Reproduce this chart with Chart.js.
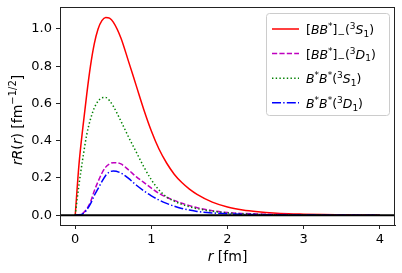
<!DOCTYPE html>
<html lang="en">
<head>
    <meta charset="UTF-8">
    <title>Radial wave functions</title>
    <script src="https://cdn.jsdelivr.net/npm/chart.js"></script>
    <style>
        body {
            margin: 0;
            background: #fff;
        }
    </style>
</head>
<body>
    <canvas id="waveChart" width="402" height="273"></canvas>
    <script>
        // r grid [fm] and the four curves
        var rValues = [0, 0.05, 0.1, 0.15, 0.2, 0.25, 0.3, 0.35, 0.4, 0.45, 0.5, 0.6, 0.7, 0.8, 0.9, 1.0,
            1.1, 1.2, 1.3, 1.4, 1.5, 1.6, 1.8, 2.0, 2.2, 2.4, 2.6, 2.8, 3.0, 3.25, 3.5, 3.75, 4.0];
        var bbS1 = [0, 0.275, 0.47, 0.645, 0.80, 0.92, 1.0, 1.045, 1.062, 1.058, 1.037, 0.952, 0.826, 0.697, 0.568, 0.452,
            0.355, 0.28, 0.22, 0.175, 0.14, 0.112, 0.07, 0.044, 0.028, 0.018, 0.011, 0.007, 0.005, 0.003, 0.002, 0.001, 0.001];
        var bbD1 = [0, 0.002, 0.01, 0.033, 0.07, 0.13, 0.18, 0.225, 0.258, 0.275, 0.282, 0.275, 0.243, 0.207, 0.176, 0.145,
            0.117, 0.096, 0.079, 0.064, 0.051, 0.04, 0.024, 0.014, 0.009, 0.006, 0.004, 0.003, 0.002, 0.001, 0.001, 0, 0];
        var bsS1 = [0, 0.165, 0.305, 0.43, 0.515, 0.575, 0.612, 0.63, 0.632, 0.615, 0.585, 0.505, 0.42, 0.34, 0.26, 0.19,
            0.135, 0.098, 0.075, 0.058, 0.045, 0.035, 0.021, 0.012, 0.007, 0.004, 0.002, 0.001, 0.001, 0, 0, 0, 0];
        var bsD1 = [0, 0.001, 0.007, 0.028, 0.06, 0.105, 0.142, 0.18, 0.213, 0.232, 0.237, 0.226, 0.197, 0.162, 0.131, 0.104,
            0.081, 0.063, 0.048, 0.036, 0.027, 0.02, 0.012, 0.007, 0.004, 0.003, 0.002, 0.001, 0.001, 0, 0, 0, 0];

        var xTicks = [0, 1, 2, 3, 4];
        var yTicks = [0, 0.2, 0.4, 0.6, 0.8, 1.0];

        var FONT = '"DejaVu Sans", sans-serif';

        function pts(ys) {
            return rValues.map(function(r, i) { return {x: r, y: ys[i]}; });
        }

        // legend labels as pieces: n = upright, i = italic, p = superscript, s = subscript
        var legendItems = [
            {color: '#ff0000', dash: [], parts: [['[', 'n'], ['BB', 'i'], ['*', 'p'], [']', 'n'], ['\u2212', 's'], ['(', 'n'], ['3', 'p'], ['S', 'i'], ['1', 's'], [')', 'n']]},
            {color: '#bf00bf', dash: [5.2, 2.2], parts: [['[', 'n'], ['BB', 'i'], ['*', 'p'], [']', 'n'], ['\u2212', 's'], ['(', 'n'], ['3', 'p'], ['D', 'i'], ['1', 's'], [')', 'n']]},
            {color: '#008000', dash: [1.4, 2.3], parts: [['B', 'i'], ['*', 'p'], ['B', 'i'], ['*', 'p'], ['(', 'n'], ['3', 'p'], ['S', 'i'], ['1', 's'], [')', 'n']]},
            {color: '#0000ff', dash: [9, 2.2, 1.4, 2.2], parts: [['B', 'i'], ['*', 'p'], ['B', 'i'], ['*', 'p'], ['(', 'n'], ['3', 'p'], ['D', 'i'], ['1', 's'], [')', 'n']]}
        ];

        function partFont(kind, size) {
            var small = Math.round(size * 0.7);
            if (kind === 'i') return 'italic ' + size + 'px ' + FONT;
            if (kind === 'p' || kind === 's') return small + 'px ' + FONT;
            return size + 'px ' + FONT;
        }

        function richWidth(ctx, parts, size) {
            var w = 0;
            parts.forEach(function(p) {
                ctx.font = partFont(p[1], size);
                w += ctx.measureText(p[0]).width;
            });
            return w;
        }

        // draws text pieces left to right, baseline at y
        function drawRich(ctx, parts, x, y, size) {
            ctx.textBaseline = 'alphabetic';
            ctx.textAlign = 'left';
            parts.forEach(function(p) {
                ctx.font = partFont(p[1], size);
                var dy = 0;
                if (p[1] === 'p') dy = -size * 0.4;
                if (p[1] === 's') dy = size * 0.22;
                ctx.fillText(p[0], x, y + dy);
                x += ctx.measureText(p[0]).width;
            });
        }

        var extras = {
            id: 'extras',
            afterDraw: function(chart) {
                var ctx = chart.ctx;
                var a = chart.chartArea;
                ctx.save();
                ctx.strokeStyle = '#222';
                ctx.lineWidth = 1;
                ctx.strokeRect(a.left + 0.5, a.top + 0.5, a.right - a.left - 1, a.bottom - a.top);
                ctx.fillStyle = '#000';

                // x title
                var xt = [['r', 'i'], [' [fm]', 'n']];
                var w = richWidth(ctx, xt, 14);
                drawRich(ctx, xt, (a.left + a.right) / 2 - w / 2, 261, 14);

                // y title
                var yt = [['rR', 'i'], ['(', 'n'], ['r', 'i'], [') [fm', 'n'], ['\u22121/2', 'p'], [']', 'n']];
                w = richWidth(ctx, yt, 14);
                ctx.translate(22, (a.top + a.bottom) / 2 + 4);
                ctx.rotate(-Math.PI / 2);
                drawRich(ctx, yt, -w / 2, 0, 14);
                ctx.restore();

                // legend box
                ctx.save();
                var bx = 266.5, by = 13.5, bw = 123, bh = 102;
                ctx.beginPath();
                ctx.roundRect(bx, by, bw, bh, 3);
                ctx.fillStyle = 'rgba(255,255,255,0.8)';
                ctx.fill();
                ctx.strokeStyle = '#cccccc';
                ctx.lineWidth = 1;
                ctx.stroke();
                legendItems.forEach(function(item, i) {
                    var yy = 29 + i * 24.6;
                    ctx.beginPath();
                    ctx.setLineDash(item.dash);
                    ctx.strokeStyle = item.color;
                    ctx.lineWidth = 1.5;
                    ctx.moveTo(272, yy);
                    ctx.lineTo(299, yy);
                    ctx.stroke();
                    ctx.setLineDash([]);
                    ctx.fillStyle = '#000';
                    drawRich(ctx, item.parts, 306, yy + 5, 12.5);
                });
                ctx.restore();
            }
        };

        function curve(ys, color, dash, order) {
            return {
                data: pts(ys),
                borderColor: color,
                borderWidth: 1.5,
                borderDash: dash,
                pointRadius: 0,
                fill: false,
                cubicInterpolationMode: 'monotone',
                order: order
            };
        }

        new Chart(document.getElementById('waveChart').getContext('2d'), {
            type: 'line',
            data: {
                datasets: [
                    {
                        data: [{x: -0.2, y: 0}, {x: 4.2, y: 0}],
                        borderColor: '#000',
                        borderWidth: 2,
                        pointRadius: 0,
                        order: 0
                    },
                    curve(bbS1, '#ff0000', [], 4),
                    curve(bbD1, '#bf00bf', [5.2, 2.2], 3),
                    curve(bsS1, '#008000', [1.4, 2.3], 2),
                    curve(bsD1, '#0000ff', [9, 2.2, 1.4, 2.2], 1)
                ]
            },
            options: {
                responsive: false,
                animation: false,
                devicePixelRatio: 1,
                layout: {padding: {left: 0, top: 7, right: 7, bottom: 0}},
                plugins: {
                    legend: {display: false},
                    tooltip: {enabled: false}
                },
                scales: {
                    x: {
                        type: 'linear',
                        min: -0.2,
                        max: 4.2,
                        afterBuildTicks: function(scale) {
                            scale.ticks = xTicks.map(function(v) { return {value: v}; });
                        },
                        afterFit: function(scale) {
                            scale.height = 48;
                            scale.paddingLeft = 0;
                            scale.paddingRight = 0;
                        },
                        ticks: {
                            color: '#000',
                            font: {family: FONT, size: 13},
                            padding: 3,
                            maxRotation: 0,
                            callback: function(v) { return String(v); }
                        },
                        grid: {drawOnChartArea: false, tickLength: 4, color: '#222'},
                        border: {color: '#222'}
                    },
                    y: {
                        min: -0.053,
                        max: 1.118,
                        afterBuildTicks: function(scale) {
                            scale.ticks = yTicks.map(function(v) { return {value: v}; });
                        },
                        afterFit: function(scale) {
                            scale.width = 60;
                            scale.paddingTop = 0;
                            scale.paddingBottom = 0;
                        },
                        ticks: {
                            color: '#000',
                            font: {family: FONT, size: 13},
                            padding: 4,
                            callback: function(v) { return v.toFixed(1); }
                        },
                        grid: {drawOnChartArea: false, tickLength: 4, color: '#222'},
                        border: {color: '#222'}
                    }
                }
            },
            plugins: [extras]
        });
    </script>
</body>
</html>
